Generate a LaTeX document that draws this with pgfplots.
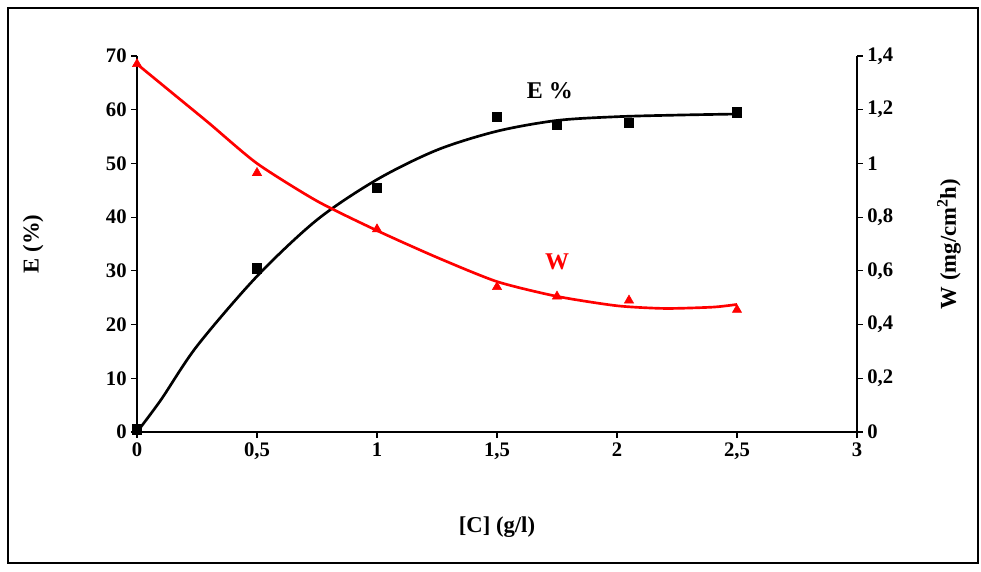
\documentclass[border=0pt]{standalone}
\usepackage{pgfplots}
\pgfplotsset{compat=1.18}
\usepackage{fontspec}
\setmainfont{Liberation Serif}
\begin{document}
\begin{tikzpicture}
\path[use as bounding box] (-102.75pt,-104.25pt) rectangle (633pt,324pt);
\draw[line width=0.8pt] (-96.75pt,-98.25pt) rectangle (630.75pt,318pt);
\pgfplotsset{every axis/.style={scale only axis, width=540pt, height=282pt,
  xmin=0,xmax=3, tick align=outside, tick style={black,line width=0.8pt},
  axis line style={line width=0.8pt},
  /pgf/number format/assume math mode=true,
  /pgf/number format/use comma,
  tick label style={font=\bfseries\fontsize{15.5}{15.5}\selectfont},
  label style={font=\bfseries\fontsize{17}{17}\selectfont}}}
\begin{axis}[axis x line*=bottom, axis y line*=left, ymin=0,ymax=70,
  xtick={0,0.5,...,3}, ytick={0,10,...,70},
  xlabel={[C] (g/l)}, ylabel={E (\%)},
  xlabel style={yshift=-36pt}, ylabel style={yshift=40pt},
  clip=false]
\addplot[black, line width=2pt, smooth, tension=0.5] coordinates {(0,0) (0.1,6) (0.25,16) (0.5,29) (0.75,39.5) (1,47) (1.25,52.5) (1.5,56) (1.75,58) (2,58.7) (2.25,59) (2.5,59.2)};
\addplot[only marks, mark=square*, mark size=3.5pt, black] coordinates {(0,0.5) (0.5,30.5) (1,45.5) (1.5,58.7) (1.75,57.2) (2.05,57.6) (2.5,59.5)};
\node[font=\bfseries\fontsize{18}{18}\selectfont] at (axis cs:1.72,63.5) {E \%};
\end{axis}
\begin{axis}[axis x line=none, axis y line*=right, ymin=0,ymax=1.4,
  ytick={0,0.2,...,1.4}, yticklabel style={/pgf/number format/fixed},
  ylabel={W (mg/cm$^\mathbf{2}$h)}, ylabel style={yshift=-26pt}, clip=false]
\addplot[red, line width=2pt, smooth, tension=0.4] coordinates {(0,1.37) (0.15,1.26) (0.3,1.15) (0.5,1.0) (0.75,0.86) (1,0.75) (1.25,0.65) (1.5,0.56) (1.75,0.505) (2,0.47) (2.2,0.46) (2.4,0.465) (2.5,0.475)};
\addplot[only marks, mark=triangle*, mark size=4pt, red] coordinates {(0,1.37) (0.5,0.965) (1,0.755) (1.5,0.54) (1.75,0.505) (2.05,0.49) (2.5,0.455)};
\node[red,font=\bfseries\fontsize{18}{18}\selectfont] at (axis cs:1.75,0.635) {W};
\end{axis}
\end{tikzpicture}
\end{document}
